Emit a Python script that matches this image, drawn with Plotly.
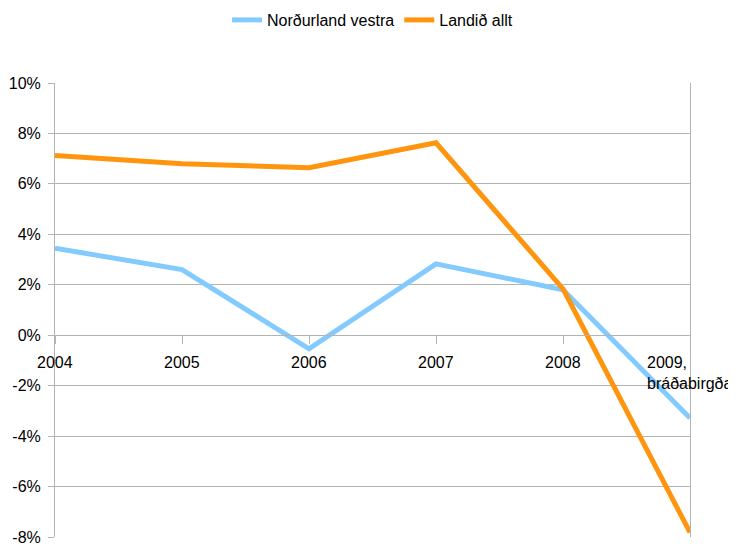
import plotly.graph_objects as go

categories = ["2004", "2005", "2006", "2007", "2008", "2009,<br>bráðabirgða"]
nordurland_vestra = [3.45, 2.6, -0.54, 2.83, 1.8, -3.28]
landid_allt = [7.13, 6.8, 6.64, 7.63, 1.84, -7.82]
y_ticks = [-8, -6, -4, -2, 0, 2, 4, 6, 8, 10]
y_ticklabels = ["-8%", "-6%", "-4%", "-2%", "0%", "2%", "4%", "6%", "8%", "10%"]

font = "Liberation Sans, Arial, sans-serif"
fs = 16
xs = list(range(len(categories)))

fig = go.Figure()
fig.add_trace(go.Scatter(x=xs, y=nordurland_vestra, mode="lines", name="Norðurland vestra",
                         line=dict(color="#83caff", width=5)))
fig.add_trace(go.Scatter(x=xs, y=landid_allt, mode="lines", name="Landið allt",
                         line=dict(color="#ff950e", width=5)))

for i, lab in enumerate(categories):
    fig.add_annotation(x=i, y=0, xref="x", yref="y", text=lab, showarrow=False,
                       yanchor="top", xanchor="center", align="left", yshift=-17,
                       font=dict(family=font, size=fs, color="#000000"))

fig.update_layout(
    width=736, height=552,
    margin=dict(l=47, r=54, t=75, b=23, autoexpand=False),
    paper_bgcolor="white", plot_bgcolor="white",
    font=dict(family=font, size=fs, color="#000000"),
    showlegend=True,
    legend=dict(orientation="h", x=0.5, xanchor="center", xref="paper",
                y=1 - 12 / 552, yref="container", yanchor="middle",
                font=dict(family=font, size=fs), itemwidth=30, tracegroupgap=0),
    xaxis=dict(range=[0, len(categories) - 1], showgrid=False, zeroline=False,
               tickmode="array", tickvals=xs, ticktext=[""] * len(categories),
               ticks="outside", ticklen=8, tickcolor="#b3b3b3", tickwidth=1,
               showline=True, linecolor="#b3b3b3", linewidth=1,
               anchor="free", position=8 / 18, automargin=False),
    yaxis=dict(range=[-8, 10], tickvals=y_ticks, ticktext=y_ticklabels,
               showgrid=True, gridcolor="#b3b3b3", gridwidth=1, zeroline=False,
               showline=True, linecolor="#b3b3b3", linewidth=1, mirror=True,
               ticks="outside", ticklen=6, tickcolor="#b3b3b3", automargin=False,
               ticklabelstandoff=4),
)

fig.write_html("out.html")
